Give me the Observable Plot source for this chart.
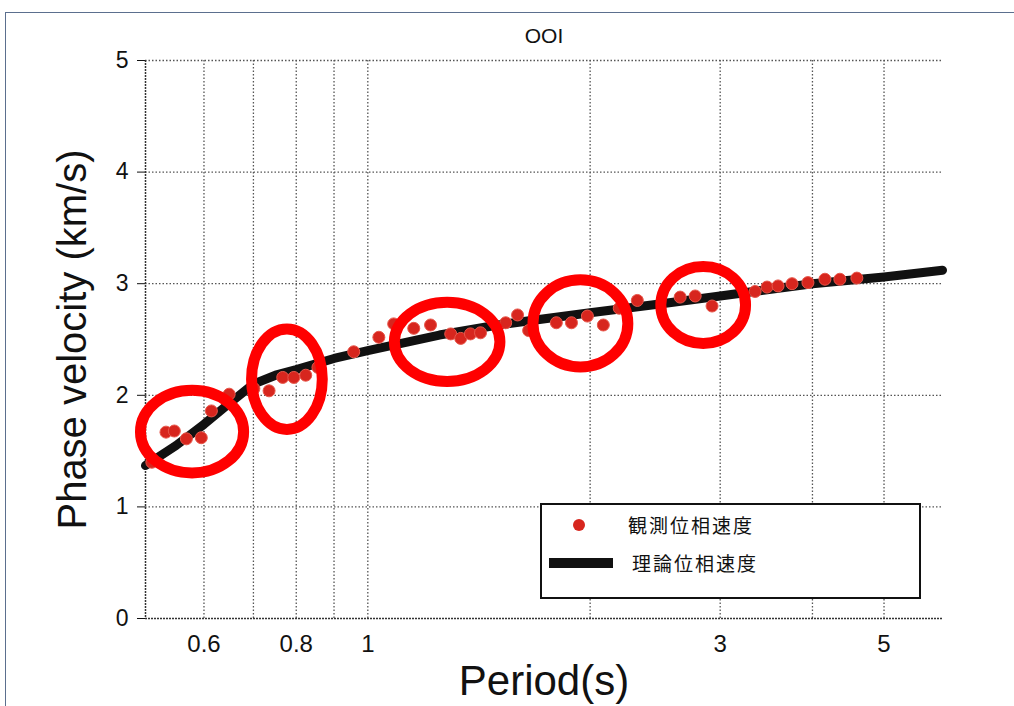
<!DOCTYPE html>
<html>
<head>
<meta charset="utf-8">
<script src="https://cdn.jsdelivr.net/npm/d3@7"></script>
<script src="https://cdn.jsdelivr.net/npm/@observablehq/plot@0.6"></script>
<style>
  body { margin: 0; background: #fff; }
  #wrap { position: relative; width: 1014px; height: 706px; overflow: hidden; font-family: "Liberation Sans", Arial, sans-serif; }
  #frameline { position: absolute; left: 5px; top: 12px; width: 1200px; height: 900px; border-top: 1.5px solid #5b6f8e; border-left: 1.5px solid #5b6f8e; box-sizing: border-box; }
  #chart { position: absolute; left: 0; top: 0; }
  #legend { position: absolute; left: 540px; top: 503px; width: 381px; height: 96px; border: 2px solid #111; box-sizing: border-box; background: #fff; }
  .lg-dot { position: absolute; left: 31px; top: 14px; width: 12px; height: 12px; border-radius: 50%; background: #d7261e; }
  .lg-line { position: absolute; left: 7px; top: 53px; width: 64px; height: 10px; background: #111; }
  .lg-text { position: absolute; font-family: "Noto Sans CJK JP", sans-serif; font-size: 19px; letter-spacing: 2px; line-height: 1; color: #111; }
</style>
</head>
<body>
<div id="wrap">
  <div id="frameline"></div>
  <div id="chart"></div>
  <div id="legend">
    <div class="lg-dot"></div>
    <div class="lg-text" style="left:86px; top:10px;">観測位相速度</div>
    <div class="lg-line"></div>
    <div class="lg-text" style="left:90px; top:48px;">理論位相速度</div>
  </div>
</div>
<script>
// Observed phase velocity (red dots)
const obsPeriod   = [0.51, 0.533, 0.547, 0.568, 0.595, 0.614, 0.649, 0.701, 0.735, 0.767, 0.794, 0.824, 0.856, 0.957,
                     1.035, 1.084, 1.154, 1.216, 1.295, 1.336, 1.377, 1.421, 1.537, 1.595, 1.651, 1.80, 1.887, 1.983,
                     2.084, 2.19, 2.317, 2.648, 2.775, 2.925, 3.345, 3.472, 3.593, 3.753, 3.944, 4.159, 4.357, 4.594];
const obsVelocity = [1.40, 1.67, 1.68, 1.61, 1.62, 1.86, 2.01, 2.06, 2.04, 2.16, 2.16, 2.18, 2.25, 2.39,
                     2.52, 2.64, 2.60, 2.63, 2.55, 2.51, 2.55, 2.56, 2.65, 2.72, 2.58, 2.65, 2.65, 2.71,
                     2.63, 2.78, 2.85, 2.88, 2.89, 2.80, 2.93, 2.97, 2.98, 3.00, 3.01, 3.04, 3.04, 3.05];

// Theoretical phase velocity (black curve)
const theoryPeriod   = [0.5, 0.55, 0.6, 0.65, 0.7, 0.75, 0.8, 0.9, 1.0, 1.25, 1.5, 2.0, 2.5, 3.0, 4.0, 5.0, 6.0];
const theoryVelocity = [1.37, 1.55, 1.74, 1.93, 2.10, 2.18, 2.23, 2.33, 2.40, 2.54, 2.63, 2.74, 2.82, 2.89, 3.00, 3.06, 3.12];

// Highlighted regions (red ellipses), in data units
const hlPeriodMin   = [0.493, 0.697, 1.088, 1.676, 2.497];
const hlPeriodMax   = [0.680, 0.869, 1.512, 2.253, 3.252];
const hlVelocityMin = [1.30, 1.69, 2.12, 2.25, 2.46];
const hlVelocityMax = [2.04, 2.59, 2.83, 3.03, 3.15];

// Axes
const xTickValues = [0.6, 0.8, 1, 3, 5];
const yTickValues = [0, 1, 2, 3, 4, 5];
const xGridValues = [0.6, 0.7, 0.8, 0.9, 1, 2, 3, 4, 5];
const yGridValues = [1, 2, 3, 4, 5];
const titleText = "OOI";
const xLabel = "Period(s)";
const yLabel = "Phase velocity (km/s)";

const obs = obsPeriod.map((p, i) => ({period: p, velocity: obsVelocity[i]}));
const theory = theoryPeriod.map((p, i) => ({period: p, velocity: theoryVelocity[i]}));
const highlights = hlPeriodMin.map((p, i) => ({p1: p, p2: hlPeriodMax[i], v1: hlVelocityMin[i], v2: hlVelocityMax[i]}));

const grid = {stroke: "#555", strokeDasharray: "1.5,2", strokeWidth: 1.3, strokeOpacity: 1};

const chart = Plot.plot({
  width: 1014,
  height: 706,
  marginLeft: 145,
  marginRight: 72,
  marginTop: 60,
  marginBottom: 88,
  style: {fontFamily: "'Liberation Sans', Arial, sans-serif", fontSize: "21px", color: "#111", background: "transparent", overflow: "visible"},
  x: {type: "log", domain: [0.5, 6], axis: null},
  y: {domain: [0, 5], ticks: 5, tickSize: 8, tickFormat: () => "", label: null},
  marks: [
    Plot.ruleX(xGridValues, grid),
    Plot.ruleY(yGridValues, grid),
    Plot.ruleX([0.5], {stroke: "#333", strokeWidth: 1.5, strokeDasharray: "2,1"}),
    Plot.ruleY([0], {stroke: "#333", strokeWidth: 1.5, strokeDasharray: "2,1"}),
    Plot.line(theory, {x: "period", y: "velocity", stroke: "#111", strokeWidth: 9}),
    Plot.dot(obs, {x: "period", y: "velocity", r: 6, fill: "#d7261e", stroke: "#e8564a", strokeWidth: 1}),
    Plot.rect(highlights, {x1: "p1", x2: "p2", y1: "v1", y2: "v2", fill: "none", stroke: "#ff0000", strokeWidth: 11, rx: 1000, ry: 1000}),
    Plot.text(xTickValues, {x: d => d, y: 0, dy: 26, text: d => String(d), fontSize: 24}),
    Plot.text(yTickValues, {y: d => d, frameAnchor: "left", dx: -17, textAnchor: "end", text: d => String(d), fontSize: 23}),
    Plot.text([titleText], {frameAnchor: "top", dy: -32, fontSize: 21}),
    Plot.text([xLabel], {frameAnchor: "bottom", dy: 76, fontSize: 42}),
    Plot.text([yLabel], {frameAnchor: "left", dx: -72, rotate: -90, textAnchor: "middle", fontSize: 40})
  ]
});
document.getElementById("chart").appendChild(chart);
</script>
</body>
</html>
